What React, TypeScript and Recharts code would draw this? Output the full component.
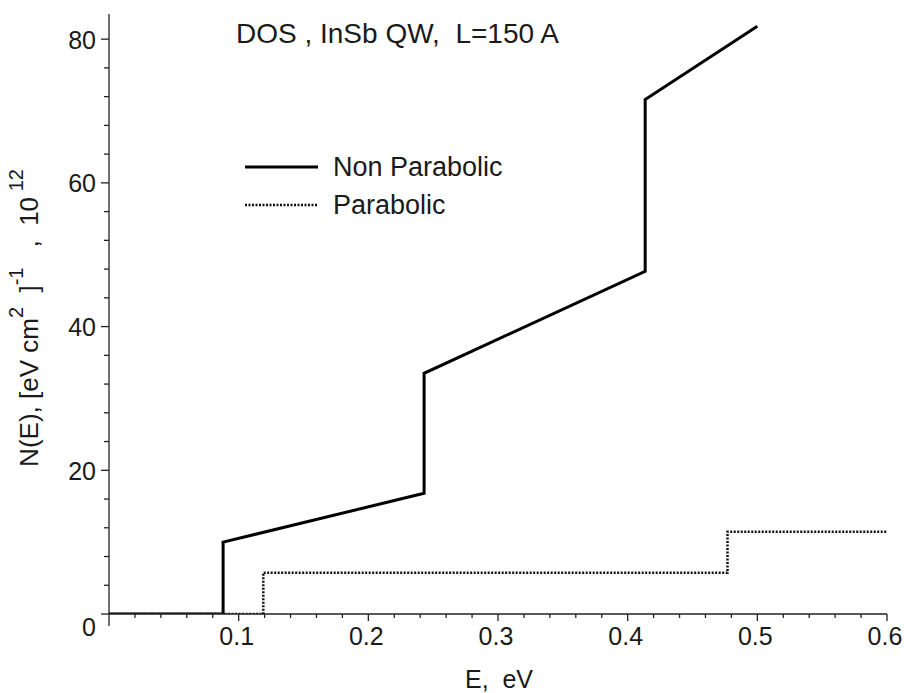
import React from "react";
import { LineChart, Line, XAxis, YAxis, Legend, Customized } from "recharts";

// Non parabolic density of states: steps at each subband with a linear rise between them
const npEnergy = [0, 0.088, 0.088, 0.243, 0.243, 0.4135, 0.4135, 0.5];
const npDos = [0, 0, 10, 16.8, 33.5, 47.7, 71.6, 81.8];

// Parabolic density of states: flat steps
const pEnergy = [0, 0.119, 0.119, 0.477, 0.477, 0.6];
const pDos = [0, 0, 5.75, 5.75, 11.45, 11.45];

// Ticks (minor + major) and the labels shown on the major ones
const xTicks = [
  0, 0.02, 0.04, 0.06, 0.08, 0.1, 0.12, 0.14, 0.16, 0.18, 0.2, 0.22, 0.24, 0.26, 0.28, 0.3,
  0.32, 0.34, 0.36, 0.38, 0.4, 0.42, 0.44, 0.46, 0.48, 0.5, 0.52, 0.54, 0.56, 0.58, 0.6,
];
const xTickLabels = ["0.1", "0.2", "0.3", "0.4", "0.5", "0.6"];
const yTicks = [0, 4, 8, 12, 16, 20, 24, 28, 32, 36, 40, 44, 48, 52, 56, 60, 64, 68, 72, 76, 80];
const yTickLabels = ["0", "20", "40", "60", "80"];

const nonParabolic = npEnergy.map((e, i) => ({ e, dos: npDos[i] }));
const parabolic = pEnergy.map((e, i) => ({ e, dos: pDos[i] }));

const FONT = "'Liberation Sans', Arial, sans-serif";
const AXIS = "#222";
const TEXT = "#1a1a1a";
const NB = "\u00a0";

const XTick = (props: any) => {
  const { x, y, payload } = props;
  const v = payload.value;
  const label = xTickLabels.find((l) => Math.abs(parseFloat(l) - v) < 1e-9);
  const len = v === 0 ? 12 : label ? 7 : 4;
  return (
    <g>
      <line x1={x} y1={y} x2={x} y2={y + len} stroke={AXIS} strokeWidth={1.3} />
      {label && (
        <text x={x - 2} y={y + 31} textAnchor="middle" fontSize={25} fontFamily={FONT} fill={TEXT}>
          {label}
        </text>
      )}
    </g>
  );
};

const YTick = (props: any) => {
  const { x, y, payload } = props;
  const v = payload.value;
  const label = yTickLabels.includes(String(v)) ? String(v) : null;
  const len = label ? 8 : 5;
  return (
    <g>
      <line x1={x - len} y1={y} x2={x} y2={y} stroke={AXIS} strokeWidth={1.3} />
      {label && (
        <text
          x={x - 13}
          y={v === 0 ? y + 22 : y + 9.5}
          textAnchor="end"
          fontSize={25}
          fontFamily={FONT}
          fill={TEXT}
        >
          {label}
        </text>
      )}
    </g>
  );
};

const renderLegend = (props: any) => {
  const { payload } = props;
  return (
    <svg width={320} height={90}>
      {payload.map((entry: any, i: number) => (
        <g key={entry.value}>
          <line
            x1={5}
            x2={78}
            y1={27 + 38 * i}
            y2={27 + 38 * i}
            stroke={entry.color}
            strokeWidth={entry.payload.strokeWidth}
            strokeDasharray={entry.payload.strokeDasharray}
          />
          <text x={93} y={36 + 38 * i} fontSize={27} fontFamily={FONT} fill={TEXT}>
            {entry.value}
          </text>
        </g>
      ))}
    </svg>
  );
};

const Annotations = () => (
  <g fontFamily={FONT} fill={TEXT}>
    <text x={236} y={43} fontSize={28}>
      {`DOS , InSb QW,${NB}${NB}L=150 A`}
    </text>
    <text x={499} y={688} fontSize={25} textAnchor="middle">
      {`E,${NB}${NB}eV`}
    </text>
    <text transform="rotate(-90)" x={-318} y={38} fontSize={26} textAnchor="middle">
      {`N(E),${NB}[eV${NB}cm`}
      <tspan dy={-15} fontSize={20}>{"2"}</tspan>
      <tspan dy={15} fontSize={26}>{`${NB}${NB}]`}</tspan>
      <tspan dy={-15} fontSize={20}>{`-1${NB}`}</tspan>
      <tspan dy={15} fontSize={26}>{`${NB}${NB},${NB}${NB}10`}</tspan>
      <tspan dy={-15} fontSize={20}>{`${NB}12`}</tspan>
    </text>
  </g>
);

export default function App() {
  return (
    <div style={{ position: "absolute", left: 0, top: 0, width: 904, height: 693, background: "#fff" }}>
      <LineChart width={904} height={693} margin={{ top: 14, right: 17, bottom: 0, left: 0 }}>
        <XAxis
          dataKey="e"
          type="number"
          domain={[0, 0.6]}
          ticks={xTicks}
          interval={0}
          height={79}
          tickSize={0}
          tickMargin={0}
          tickLine={false}
          tick={<XTick />}
          axisLine={{ stroke: AXIS, strokeWidth: 1.3 }}
          allowDataOverflow
        />
        <YAxis
          type="number"
          domain={[0, 83.5]}
          ticks={yTicks}
          interval={0}
          width={109}
          tickSize={0}
          tickMargin={0}
          tickLine={false}
          tick={<YTick />}
          axisLine={{ stroke: AXIS, strokeWidth: 1.3 }}
          allowDataOverflow
        />
        <Legend
          verticalAlign="middle"
          align="center"
          content={renderLegend}
          wrapperStyle={{ left: 240, top: 140, width: 320, height: 90 }}
        />
        <Line
          data={nonParabolic}
          dataKey="dos"
          name="Non Parabolic"
          type="linear"
          stroke="#000"
          strokeWidth={3}
          dot={false}
          activeDot={false}
          isAnimationActive={false}
        />
        <Line
          data={parabolic}
          dataKey="dos"
          name="Parabolic"
          type="linear"
          stroke="#111"
          strokeWidth={2.5}
          strokeDasharray="2 1.5"
          dot={false}
          activeDot={false}
          isAnimationActive={false}
        />
        <Customized component={Annotations} />
      </LineChart>
    </div>
  );
}
